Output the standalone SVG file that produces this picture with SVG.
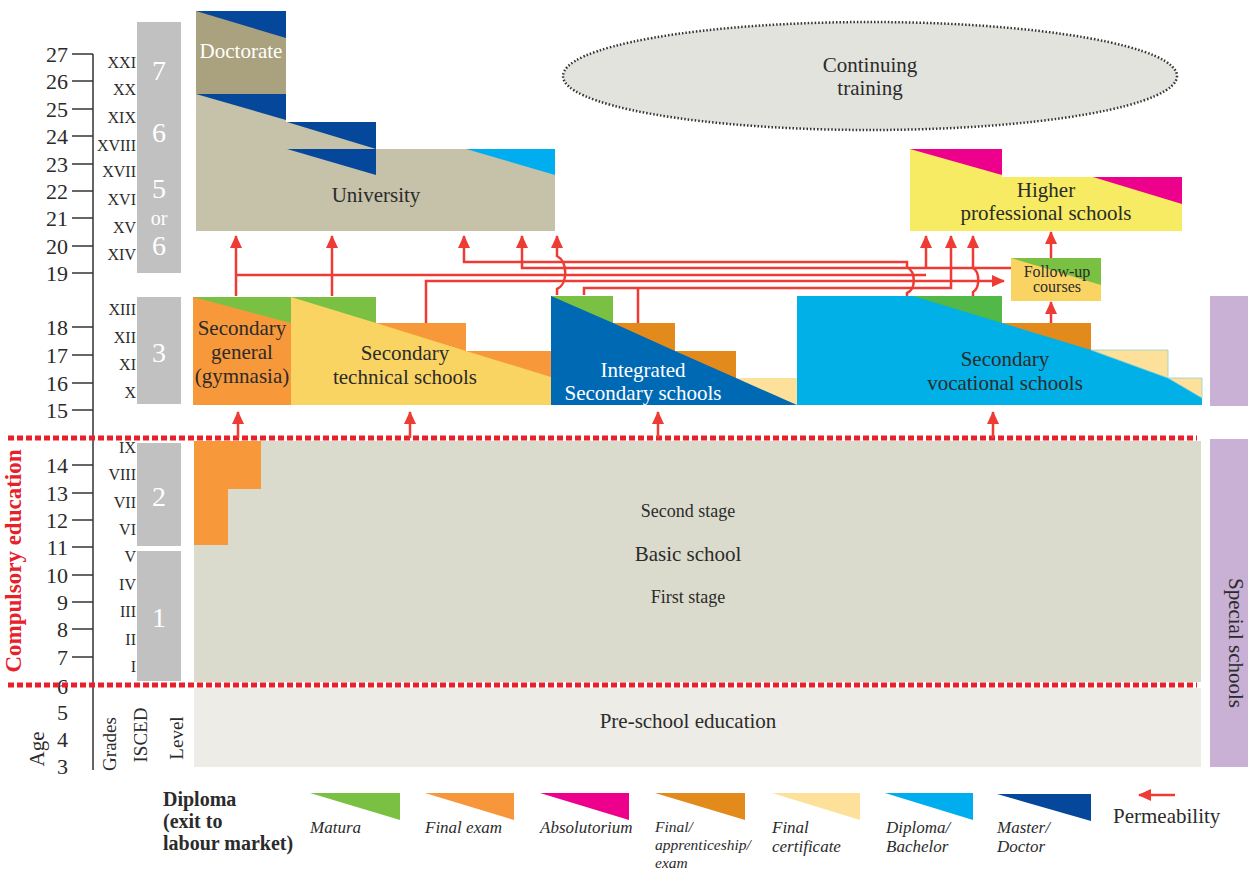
<svg xmlns="http://www.w3.org/2000/svg" width="1255" height="872" viewBox="0 0 1255 872">
<defs>
<style>
text{font-family:"Liberation Serif","DejaVu Serif",serif;fill:#2b2b2b}
.age{font-size:22px;text-anchor:end}
.gr{font-size:16px;text-anchor:end}
.isc{font-size:28px;fill:#fff;text-anchor:middle}
.lbl{font-size:21px;text-anchor:middle}
.sm{font-size:18px;text-anchor:middle}
.wt{fill:#fff}
.leg{font-size:17px;font-style:italic}
.leg2{font-size:15.5px;font-style:italic}
.tick{stroke:#333;stroke-width:1.5}
.con{fill:none;stroke:#ee3b34;stroke-width:2.5}
.dash{stroke:#e8202a;stroke-width:5;stroke-dasharray:6 3}
</style>
<marker id="ah" markerUnits="userSpaceOnUse" markerWidth="14" markerHeight="14" refX="12" refY="6" orient="auto">
<path d="M0,0 L13,6 L0,12 z" fill="#ee3b34"/>
</marker>
</defs>
<rect width="1255" height="872" fill="#fff"/>

<g id="axis">
<line x1="93" y1="54" x2="93" y2="770" stroke="#333" stroke-width="1.5"/>
<g class="tick">
<line x1="72" y1="54" x2="93" y2="54"/><line x1="72" y1="81" x2="93" y2="81"/><line x1="72" y1="109" x2="93" y2="109"/><line x1="72" y1="136" x2="93" y2="136"/><line x1="72" y1="164" x2="93" y2="164"/><line x1="72" y1="191" x2="93" y2="191"/><line x1="72" y1="218" x2="93" y2="218"/><line x1="72" y1="246" x2="93" y2="246"/><line x1="72" y1="273" x2="93" y2="273"/>
<line x1="72" y1="327" x2="93" y2="327"/><line x1="72" y1="355" x2="93" y2="355"/><line x1="72" y1="383" x2="93" y2="383"/><line x1="72" y1="410" x2="93" y2="410"/>
<line x1="72" y1="465" x2="93" y2="465"/><line x1="72" y1="493" x2="93" y2="493"/><line x1="72" y1="520" x2="93" y2="520"/><line x1="72" y1="547" x2="93" y2="547"/><line x1="72" y1="575" x2="93" y2="575"/><line x1="72" y1="602" x2="93" y2="602"/><line x1="72" y1="629" x2="93" y2="629"/><line x1="72" y1="657" x2="93" y2="657"/>
</g>
<text class="age" x="68" y="62">27</text><text class="age" x="68" y="89">26</text><text class="age" x="68" y="117">25</text><text class="age" x="68" y="144">24</text><text class="age" x="68" y="172">23</text><text class="age" x="68" y="199">22</text><text class="age" x="68" y="226">21</text><text class="age" x="68" y="254">20</text><text class="age" x="68" y="281">19</text>
<text class="age" x="68" y="335">18</text><text class="age" x="68" y="363">17</text><text class="age" x="68" y="391">16</text><text class="age" x="68" y="418">15</text>
<text class="age" x="68" y="473">14</text><text class="age" x="68" y="501">13</text><text class="age" x="68" y="528">12</text><text class="age" x="68" y="555">11</text><text class="age" x="68" y="583">10</text><text class="age" x="68" y="610">9</text><text class="age" x="68" y="637">8</text><text class="age" x="68" y="665">7</text><text class="age" x="68" y="694">6</text><text class="age" x="68" y="720">5</text><text class="age" x="68" y="747">4</text><text class="age" x="68" y="774">3</text>
<text x="44" y="749" font-size="21" text-anchor="middle" transform="rotate(-90 44 749)">Age</text>
</g>

<g id="grades">
<text class="gr" x="136" y="68">XXI</text><text class="gr" x="136" y="95">XX</text><text class="gr" x="136" y="123">XIX</text><text class="gr" x="136" y="151">XVIII</text><text class="gr" x="136" y="177">XVII</text><text class="gr" x="136" y="205">XVI</text><text class="gr" x="136" y="233">XV</text><text class="gr" x="136" y="260">XIV</text>
<text class="gr" x="136" y="315">XIII</text><text class="gr" x="136" y="343">XII</text><text class="gr" x="136" y="370">XI</text><text class="gr" x="136" y="398">X</text>
<text class="gr" x="136" y="453">IX</text><text class="gr" x="136" y="480">VIII</text><text class="gr" x="136" y="508">VII</text><text class="gr" x="136" y="535">VI</text><text class="gr" x="136" y="562">V</text><text class="gr" x="136" y="590">IV</text><text class="gr" x="136" y="617">III</text><text class="gr" x="136" y="645">II</text><text class="gr" x="136" y="672">I</text>
<text x="116" y="744" font-size="19" text-anchor="middle" transform="rotate(-90 116 744)">Grades</text>
</g>

<g id="isced">
<rect x="137" y="22" width="44" height="251" fill="#c1c1c1"/>
<text class="isc" x="159" y="80">7</text><text class="isc" x="159" y="142">6</text><text class="isc" x="159" y="198">5</text><text x="159" y="225" font-size="20" style="fill:#fff" text-anchor="middle">or</text><text class="isc" x="159" y="255">6</text>
<rect x="137" y="297" width="44" height="107" fill="#c1c1c1"/><text class="isc" x="159" y="362">3</text>
<rect x="137" y="443" width="44" height="103" fill="#c1c1c1"/><text class="isc" x="159" y="506">2</text>
<rect x="137" y="551" width="44" height="130" fill="#c1c1c1"/><text class="isc" x="159" y="627">1</text>
<text x="147" y="735" font-size="19" text-anchor="middle" transform="rotate(-90 147 735)">ISCED</text>
<text x="183" y="738" font-size="19" text-anchor="middle" transform="rotate(-90 183 738)">Level</text>
</g>

<g id="compulsory">
<text x="21" y="561" font-size="23" font-weight="bold" style="fill:#e8202a" text-anchor="middle" transform="rotate(-90 21 561)">Compulsory education</text>
</g>

<g id="doctorate">
<rect x="196" y="11" width="90" height="83" fill="#aaa27e"/>
<polygon points="196,11 286,11 286,38" fill="#05479a"/>
<text class="lbl wt" x="241" y="58">Doctorate</text>
</g>

<g id="university">
<polygon points="196,94 286,94 286,122 376,122 376,149 555,149 555,231 196,231" fill="#c6c1a9"/>
<polygon points="196,94 286,94 286,120" fill="#05479a"/>
<polygon points="287,122 376,122 376,149" fill="#05479a"/>
<polygon points="287,149 376,149 376,175" fill="#05479a"/>
<polygon points="466,149 555,149 555,175" fill="#00aeef"/>
<text class="lbl" x="376" y="202">University</text>
</g>

<g id="continuing">
<ellipse cx="870" cy="76" rx="307" ry="54" fill="#e3e3de" stroke="#333" stroke-width="2.5" stroke-dasharray="1.5 2"/>
<text class="lbl" x="870" y="72">Continuing</text>
<text class="lbl" x="870" y="95">training</text>
</g>

<g id="higher">
<polygon points="910,149 1002,149 1002,177 1182,177 1182,231 910,231" fill="#f6eb62"/>
<polygon points="910,149 1002,149 1002,175" fill="#ec008c"/>
<polygon points="1093,177 1182,177 1182,204" fill="#ec008c"/>
<text class="lbl" x="1046" y="197">Higher</text>
<text class="lbl" x="1046" y="220">professional schools</text>
</g>

<g id="followup">
<rect x="1011" y="258" width="90" height="43" fill="#fad462"/>
<polygon points="1011,258 1101,258 1101,285" fill="#7ac143"/>
<text x="1057" y="277" font-size="16" text-anchor="middle">Follow-up</text>
<text x="1057" y="292" font-size="16" text-anchor="middle">courses</text>
</g>

<g id="gymnasia">
<rect x="193" y="297" width="98" height="108" fill="#f7993a"/>
<polygon points="193,297 291,297 291,323" fill="#7ac143"/>
<text class="lbl" x="242" y="335">Secondary</text>
<text class="lbl" x="242" y="359">general</text>
<text class="lbl" x="242" y="383">(gymnasia)</text>
</g>

<g id="technical">
<polygon points="291,297 376,297 376,323 466,323 466,351 551,351 551,405 291,405" fill="#fad462"/>
<polygon points="291,297 376,297 376,323" fill="#7ac143"/>
<polygon points="376,323 466,323 466,351" fill="#f7993a"/>
<polygon points="466,351 551,351 551,377" fill="#f7993a"/>
<text class="lbl" x="405" y="360">Secondary</text>
<text class="lbl" x="405" y="384">technical schools</text>
</g>

<g id="integrated">
<polygon points="551,296 613,296 613,323 675,323 675,351 736,351 736,378 797,378 797,405 551,405" fill="#0069b4"/>
<polygon points="551,296 613,296 613,323" fill="#7ac143"/>
<polygon points="613,323 675,323 675,351" fill="#e28a1c"/>
<polygon points="675,351 736,351 736,378" fill="#e28a1c"/>
<polygon points="736,378 797,378 797,405" fill="#fde09a"/>
<text class="lbl wt" x="643" y="377">Integrated</text>
<text class="lbl wt" x="643" y="400">Secondary schools</text>
</g>

<g id="vocational">
<polygon points="797,296 1002,296 1002,323 1091,323 1091,350 1168,350 1168,378 1202,378 1202,405 797,405" fill="#00b0e6"/>
<polygon points="913,296 1002,296 1002,323" fill="#52b848"/>
<polygon points="1002,323 1091,323 1091,350" fill="#e28a1c"/>
<polygon points="1091,350 1168,350 1168,378" fill="#fde09a" stroke="#8fd0d0" stroke-width="0.8"/>
<polygon points="1168,378 1202,378 1202,398" fill="#fde09a" stroke="#8fd0d0" stroke-width="0.8"/>
<text class="lbl" x="1005" y="366">Secondary</text>
<text class="lbl" x="1005" y="390">vocational schools</text>
</g>

<g id="special">
<rect x="1210" y="296" width="38" height="110" fill="#c9b0d5"/>
<rect x="1210" y="439" width="38" height="328" fill="#c9b0d5"/>
<text x="1229" y="643" font-size="21" text-anchor="middle" transform="rotate(90 1229 643)">Special schools</text>
</g>

<g id="basic">
<rect x="194" y="441" width="1007" height="241" fill="#dadbcc"/>
<polygon points="194,441 261,441 261,489 228,489 228,545 194,545" fill="#f7993a"/>
<text class="sm" x="688" y="517">Second stage</text>
<text class="lbl" x="688" y="561">Basic school</text>
<text class="sm" x="688" y="603">First stage</text>
</g>

<g id="preschool">
<rect x="194" y="688" width="1007" height="79" fill="#edece6"/>
<text class="lbl" x="688" y="728">Pre-school education</text>
</g>

<g id="dashed">
<line class="dash" x1="8" y1="438" x2="1197" y2="438"/>
<line class="dash" x1="8" y1="685" x2="1197" y2="685"/>
</g>

<g id="connectors">
<path class="con" marker-end="url(#ah)" d="M238,438 V412"/>
<path class="con" marker-end="url(#ah)" d="M410,438 V412"/>
<path class="con" marker-end="url(#ah)" d="M658,438 V412"/>
<path class="con" marker-end="url(#ah)" d="M993,438 V412"/>
<path class="con" marker-end="url(#ah)" d="M236,296 V236"/>
<path class="con" marker-end="url(#ah)" d="M332,296 V236"/>
<path class="con" d="M236,275 H926"/>
<path class="con" marker-end="url(#ah)" d="M907,296 V293 C916,289 916,272 907,267 V262 H464 V236"/>
<path class="con" marker-end="url(#ah)" d="M1011,268 H522 V236"/>
<path class="con" marker-end="url(#ah)" d="M926,268 V236"/>
<path class="con" marker-end="url(#ah)" d="M426,323 V281 H1004"/>
<path class="con" marker-end="url(#ah)" d="M557,295 V289 C568,284 568,262 557,256 V236"/>
<path class="con" marker-end="url(#ah)" d="M584,295 V288 H951 V236"/>
<path class="con" d="M638,323 V288"/>
<path class="con" marker-end="url(#ah)" d="M973,296 V292 C980,288 980,272 973,268 V236"/>
<path class="con" marker-end="url(#ah)" d="M1051,323 V302"/>
<path class="con" marker-end="url(#ah)" d="M1051,258 V232"/>
</g>

<g id="legend">
<text x="163" y="806" font-size="20" font-weight="bold">Diploma</text>
<text x="163" y="828" font-size="20" font-weight="bold">(exit to</text>
<text x="163" y="850" font-size="20" font-weight="bold">labour market)</text>
<polygon points="310,793 400,793 400,820" fill="#7ac143"/>
<text class="leg" x="310" y="833">Matura</text>
<polygon points="425,793 514,793 514,820" fill="#f7963a"/>
<text class="leg" x="425" y="833">Final exam</text>
<polygon points="540,793 629,793 629,820" fill="#ec008c"/>
<text class="leg" x="540" y="833">Absolutorium</text>
<polygon points="655,793 745,793 745,820" fill="#e28a1c"/>
<text class="leg2" x="655" y="832">Final/</text><text class="leg2" x="655" y="850">apprenticeship/</text><text class="leg2" x="655" y="868">exam</text>
<polygon points="772,793 860,793 860,820" fill="#fde09a"/>
<text class="leg" x="772" y="833">Final</text><text class="leg" x="772" y="852">certificate</text>
<polygon points="885,793 973,793 973,820" fill="#00aeef"/>
<text class="leg" x="886" y="833">Diploma/</text><text class="leg" x="886" y="852">Bachelor</text>
<polygon points="997,794 1091,794 1091,821" fill="#05479a"/>
<text class="leg" x="997" y="833">Master/</text><text class="leg" x="997" y="852">Doctor</text>
<path class="con" marker-end="url(#ah)" d="M1175,795 H1139"/>
<text x="1113" y="823" font-size="21">Permeability</text>
</g>
</svg>
